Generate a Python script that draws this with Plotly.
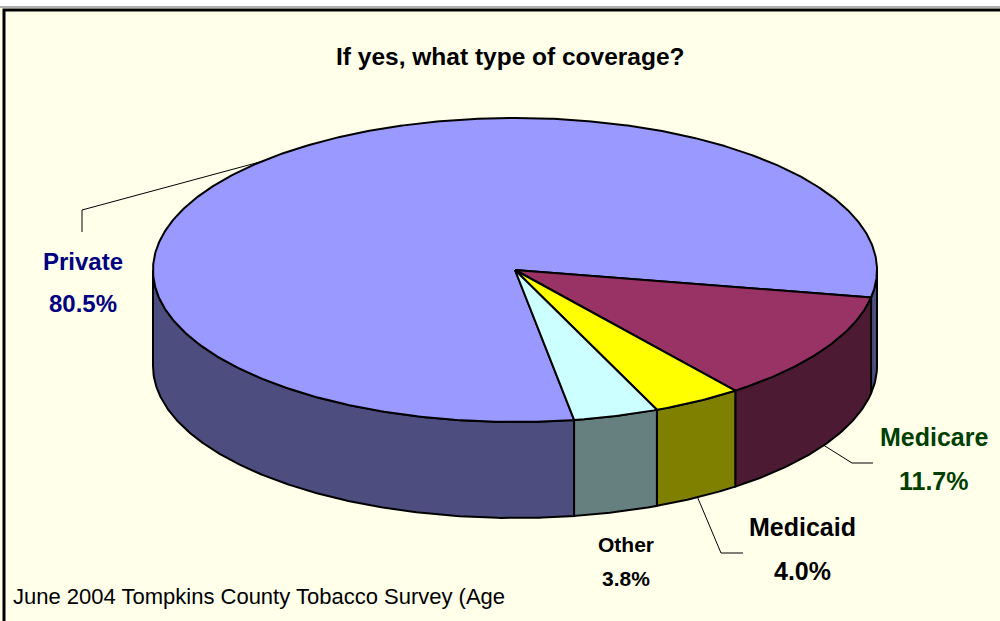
import numpy as np
import plotly.graph_objects as go

# ---- data ----
categories = ["Private", "Medicare", "Medicaid", "Other"]
values = [80.5, 11.7, 4.0, 3.8]
pct_labels = ["80.5%", "11.7%", "4.0%", "3.8%"]
title_text = "If yes, what type of coverage?"
footer_text = "June 2004 Tompkins County Tobacco Survey (Age"

# ---- styles ----
top_colors = ["#9999FF", "#993366", "#FFFF00", "#CCFFFF"]
side_colors = ["#4D4D80", "#4D1A33", "#808000", "#668080"]
label_colors = ["#000080", "#003F00", "#000000", "#000000"]
BG = "#FFFFEA"
FONT = "Liberation Sans, Arial"

# pie geometry (pixel space)
CX, CY, RX, RY, DEPTH = 515, 270, 362, 152, 96
START = 10.4 - values[0] * 3.6  # Private starts so that Medicare begins at 10.4 deg

W, H = 1000, 621


def pt(theta_deg, dy=0.0):
    t = np.radians(theta_deg)
    return CX + RX * np.cos(t), CY + RY * np.sin(t) + dy


def arc(a, b, dy=0.0):
    n = max(4, int(abs(b - a) * 2))
    th = np.linspace(a, b, n)
    xs, ys = pt(th, dy)
    return list(xs), list(ys)


# slice angles
total = sum(values)
angles = []
acc = START
for v in values:
    span = v / total * 360.0
    angles.append((acc, acc + span))
    acc += span

fig = go.Figure()

# side faces (front half only: theta in [0,180] mod 360)
for i, (a, b) in enumerate(angles):
    for k in range(-2, 3):
        lo = max(a, 360 * k)
        hi = min(b, 360 * k + 180)
        if hi - lo <= 0.01:
            continue
        xt, yt = arc(lo, hi)
        xb, yb = arc(hi, lo, DEPTH)
        xs = xt + xb + [xt[0]]
        ys = yt + yb + [yt[0]]
        fig.add_trace(go.Scatter(x=xs, y=ys, mode="lines", fill="toself",
                                 fillcolor=side_colors[i],
                                 line=dict(color="black", width=2),
                                 hoverinfo="skip", showlegend=False))

# top faces
for i, (a, b) in enumerate(angles):
    xa, ya = arc(a, b)
    xs = [CX] + xa + [CX]
    ys = [CY] + ya + [CY]
    fig.add_trace(go.Scatter(x=xs, y=ys, mode="lines", fill="toself",
                             fillcolor=top_colors[i],
                             line=dict(color="black", width=2),
                             hoverinfo="skip", showlegend=False))

# leader lines (from mid-angle of slices)
mids = [(a + b) / 2 for a, b in angles]
px, py = pt(mids[0])
fig.add_trace(go.Scatter(x=[px, 82, 82], y=[py, 210, 232], mode="lines",
                         line=dict(color="black", width=1),
                         hoverinfo="skip", showlegend=False))
mx, my = pt(mids[1], DEPTH)
fig.add_trace(go.Scatter(x=[mx, 852, 873], y=[my, 463, 463], mode="lines",
                         line=dict(color="black", width=1),
                         hoverinfo="skip", showlegend=False))
dx, dy_ = pt(mids[2], DEPTH)
fig.add_trace(go.Scatter(x=[dx, 721, 743], y=[dy_, 553, 553], mode="lines",
                         line=dict(color="black", width=1),
                         hoverinfo="skip", showlegend=False))

# labels
label_pos = [
    (83, 261, 303, 24),
    (934, 437, 481, 25),
    (802, 527, 571, 25),
    (626, 544, 578, 21),
]
annotations = []
for i, (x, y1, y2, fs) in enumerate(label_pos):
    for txt, yy in ((categories[i], y1), (pct_labels[i], y2)):
        annotations.append(dict(x=x, y=yy, xref="x", yref="y", text="<b>%s</b>" % txt,
                                showarrow=False, xanchor="center", yanchor="middle",
                                font=dict(family=FONT, size=fs, color=label_colors[i])))

annotations.append(dict(x=510, y=56, xref="x", yref="y", text="<b>%s</b>" % title_text,
                        showarrow=False, xanchor="center", yanchor="middle",
                        font=dict(family=FONT, size=24.5, color="black")))
annotations.append(dict(x=11, y=596, xref="x", yref="y", text=footer_text,
                        showarrow=False, xanchor="left", yanchor="middle",
                        font=dict(family=FONT, size=22, color="black")))

shapes = [
    dict(type="rect", xref="x", yref="y", x0=-5, y0=-5, x1=1005, y1=7,
         fillcolor="white", line=dict(width=0), layer="below"),
    dict(type="line", xref="x", yref="y", x0=-5, y0=7, x1=1005, y1=7,
         line=dict(color="#B0B0B0", width=2), layer="below"),
    dict(type="rect", xref="x", yref="y", x0=4, y0=10, x1=1010, y1=640,
         fillcolor=BG, line=dict(color="black", width=3), layer="below"),
]

fig.update_layout(
    width=W, height=H,
    margin=dict(l=0, r=0, t=0, b=0),
    paper_bgcolor=BG, plot_bgcolor=BG,
    xaxis=dict(range=[0, W], visible=False, fixedrange=True),
    yaxis=dict(range=[H, 0], visible=False, fixedrange=True),
    annotations=annotations,
    shapes=shapes,
    showlegend=False,
)

fig.write_html("out.html")
